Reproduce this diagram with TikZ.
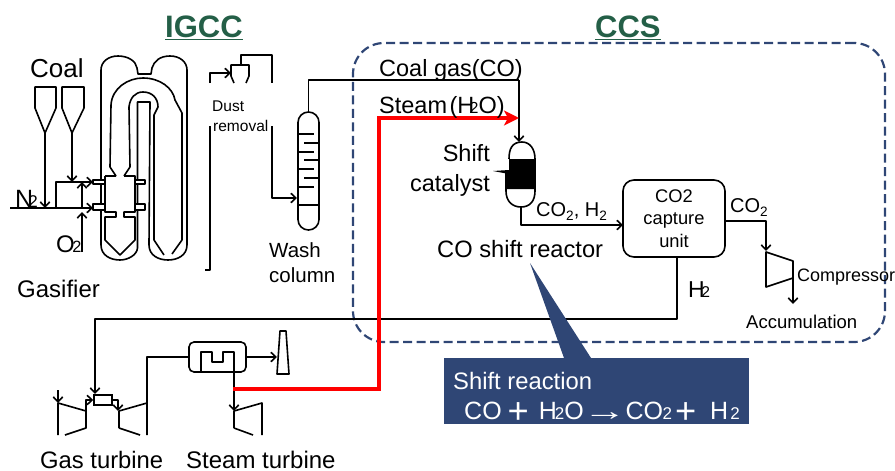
\documentclass[tikz,border=0pt]{standalone}
\usepackage{graphicx}
\usepackage{fontspec}
\setmainfont{Liberation Sans}
\usetikzlibrary{arrows.meta,positioning,calc}
\definecolor{navy}{HTML}{2F4675}
\definecolor{titlegreen}{HTML}{245F47}
\newcommand{\fs}[1]{\fontsize{#1}{#1}\selectfont}
\newcommand{\tighttwo}[1][-.2em]{\kern#1\scalebox{.68}{2}}
\newcommand{\lowtwo}{\raisebox{-.22em}{\scalebox{.68}{2}}}
\newcommand{\bigplus}{\raisebox{-4pt}{\scalebox{1.45}{+}}}
\newcommand{\longarrow}{\raisebox{-1pt}{\scalebox{1.75}[1.1]{→}}}

\begin{document}
\begin{tikzpicture}[
  x=1pt, y=-1pt,
  pipe/.style={draw=black, line width=1.6pt, line join=round},
  arr/.style={pipe, -{Straight Barb[length=5pt,width=9.5pt]}},
  steamarr/.style={draw=red, line width=3.4pt, -{Stealth[length=15pt,width=15pt,inset=4pt]}},
  lbl/.style={anchor=base west, inner sep=0pt, text=black},
  title/.style={anchor=base west, inner sep=0pt, text=titlegreen, font=\fs{31}\bfseries},
  whitelbl/.style={anchor=base west, inner sep=0pt, text=white}
]
\useasboundingbox (0,0) rectangle (895,471);

% CCS frame
\node[draw=navy, line width=2.2pt, dash pattern=on 9pt off 4.5pt, rounded corners=31pt,
  minimum width=532pt, minimum height=299pt, inner sep=0pt] (ccs) at (619,192.5) {};
\node[title] (igcc) at (165,37) {\underline{IGCC}};
\node[title] (ccstitle) at (595,37) {\underline{CCS}};

% hoppers
\coordinate (hopperA) at (45,133);
\coordinate (hopperB) at (72,133);
\coordinate (nleft) at (10,208);
\coordinate (nA) at (45,208);
\coordinate (mixbox) at (56,208);
\coordinate (mixtee) at (82,208);
\coordinate (mixtop) at (82,182);
\coordinate (feedA) at (93,182);
\coordinate (feedB) at (93,208);
\coordinate (oxy) at (82,252);
\coordinate (oxyend) at (82,212);
\coordinate (hopperBend) at (72,182);
\draw[pipe] (35,87) -- (56,87) -- (56,108) -- (hopperA) -- (35,108) -- cycle;
\draw[pipe] (62,87) -- (84,87) -- (84,108) -- (hopperB) -- (62,108) -- cycle;
\draw[arr] (hopperA) -- (nA);
\draw[arr] (hopperB) -- (hopperBend);
\draw[arr] (nleft) -- (feedB);
\draw[pipe] (mixbox) |- (mixtop);
\draw[arr] (mixtop) -- (feedA);
\draw[arr] (mixtee) -- (mixtop);
\draw[arr] (oxy) -- (oxyend);

% gasifier
\draw[pipe] (101,70) .. controls (101,62) and (108,56) .. (118,56) .. controls (128,56) and (136,61) .. (137,68)
  -- (138,74) -- (151,74) -- (152,68) .. controls (154,61) and (160,56) .. (170,56) .. controls (180,56) and (187,62) .. (187,70)
  -- (187,245) .. controls (187,255) and (178,260) .. (168,260) .. controls (158,260) and (149,255) .. (149,245)
  -- (150,102) -- (137.5,102) -- (137.5,248) .. controls (137,255) and (128,260) .. (120,260) .. controls (110,260) and (101,255) .. (101,245) -- cycle;
\draw[pipe] (116,176) -- (110,167) -- (111,105) .. controls (112,88) and (128,78) .. (143,78) .. controls (160,78) and (173,88) .. (175,100)
  -- (182,113) -- (182,240) -- (172,254);
\draw[pipe] (124,176) -- (130,167) -- (129,107) .. controls (130,98) and (135,92) .. (143,92) .. controls (152,92) and (158,98) .. (158,107)
  -- (154,115) -- (154,240) -- (164,255);
\draw[pipe, fill=white] (105,176) -- (116,176) (124,176) -- (135,176) -- (135,212) -- (124,212) -- (124,217) -- (135,217) -- (135,240) -- (120,255)
  -- (105,240) -- (105,217) -- (116,217) -- (116,212) -- (105,212) -- (105,176);
\draw[pipe, fill=white] (93,180) rectangle (105,184);
\draw[pipe, fill=white] (93,204) rectangle (105,210);
\draw[pipe, fill=white] (135,180) rectangle (145,184);
\draw[pipe, fill=white] (135,204) rectangle (145,210);

% dust removal
\coordinate (dustin) at (231,73);
\coordinate (dustleft) at (210,83);
\coordinate (dustloop) at (241,65);
\coordinate (dustright) at (272,83);
\coordinate (dustlow) at (272,126);
\coordinate (washin) at (297,198);
\coordinate (gasout) at (210,126);
\coordinate (gasend) at (205,270);
\draw[arr] (dustleft) |- (dustin);
\draw[pipe] (234,83) -- (231,76) -- (231,65) -- (249,65) -- (249,76) -- (246,83);
\draw[pipe] (dustloop) -- (241,55) -| (dustright);
\draw[pipe] (gasout) -- (210,270) -- (gasend);
\draw[arr] (dustlow) |- (washin);

% wash column
\node[draw=black, line width=1.6pt, rounded corners=10.4pt, minimum width=21pt, minimum height=118pt, inner sep=0pt] (wash) at (308.5,171) {};
\draw[pipe] (wash.west |- 0,205) -- (wash.east |- 0,205);
\foreach \y in {134,152,169,187} \draw[pipe] (298,\y) -- (314,\y);
\foreach \y in {143,160,178} \draw[pipe] (304,\y) -- (319,\y);

% shift reactor
\coordinate (gastee) at (519,80);
\coordinate (reactortop) at (519,142);
\coordinate (reactorout) at (521,207);
\coordinate (steamup) at (379,118);
\coordinate (steamin) at (519,118);
\coordinate (steamtap) at (233,389);
\draw[pipe] (wash.north) |- (gastee);
\draw[arr] (gastee) -- (reactortop);
\draw[pipe] (509,159) .. controls (509,149) and (512,142) .. (522,142) .. controls (530,142) and (535,149) .. (535,159) -- (535,191);
\fill[black] (509,159) -- (535,159) -- (535,189) -- (506,189) -- (506,172) -- (509,172) -- cycle;
\fill[black] (493,171) -- (509,170) -- (509,174) -- cycle;
\draw[pipe] (506,172) -- (506,191) .. controls (506,201) and (512,207) .. (reactorout) .. controls (530,207) and (535,201) .. (535,191);

% capture unit, compressor
\node[draw=black, line width=1.6pt, rounded corners=11pt, minimum width=102pt, minimum height=77pt, inner sep=0pt,
  align=center, font=\fontsize{18.3}{22.5}\selectfont] (capture) at (674,218.5) {CO2\\capture\\unit};
\coordinate (capturein) at (623,225);
\coordinate (captureout) at (725,221);
\coordinate (compin) at (766,251);
\coordinate (compout) at (793,278);
\coordinate (accum) at (793,304);
\coordinate (hydro) at (677,257);
\coordinate (combin) at (95,394);
\draw[arr] (reactorout) |- (capturein);
\draw[arr] (captureout) -| (compin);
\draw[pipe] (766,252) -- (793,261) -- (793,278) -- (766,287) -- cycle;
\draw[arr] (compout) -- (accum);
\draw[arr] (hydro) -- (677,319) -| (combin);

% gas turbine
\node[draw=black, line width=1.6pt, fill=white, minimum width=18pt, minimum height=10pt, inner sep=0pt] (comb) at (103,400) {};
\draw[pipe] (58,435) -- (58,403) -- (86,411) -- (86,428) -- (65,435);
\draw[pipe] (119,428) -- (119,411) -- (147,403) -- (147,435);
\draw[pipe] (119,428) -- (140,435);
\draw[arr] (58,390) -- (58,403);
\draw[arr] (86,411) |- (comb.west);
\draw[arr] (comb.east) -| (118,411);

% heat recovery, stack, steam turbine
\node[draw=black, line width=1.6pt, rounded corners=5pt, minimum width=57pt, minimum height=30pt, inner sep=0pt] (hrsg) at (217.5,357) {};
\draw[pipe] (201,372) -- (201,352) -- (212,352) -- (212,362) -- (223,362) -- (223,352) -- (234,352) -- (234,372);
\draw[pipe] (147,403) |- (hrsg.west);
\draw[pipe] (280,331) -- (286,331) -- (289,374) -- (277,374) -- cycle;
\draw[arr] (hrsg.east) -- (277,357);
\draw[arr] (234,372) -- (234,411);
\draw[pipe] (234,428) -- (234,411) -- (262,403) -- (262,435);
\draw[pipe] (234,428) -- (253,435);

% steam line
\draw[steamarr] (steamtap) -| (steamup) -- (steamin);

% labels
\node[lbl, font=\fs{26}] (coal) at (30,77) {Coal};
\node[lbl, font=\fs{25}] (ntwo) at (15,207) {N\tighttwo};
\node[lbl, font=\fs{24}] (otwo) at (56,252) {O\tighttwo[-.1em]};
\node[lbl, font=\fs{24}] (gasifier) at (17,297) {Gasifier};
\node[lbl, font=\fs{15.5}] (dust) at (212,111) {Dust};
\node[lbl, font=\fs{15.5}] (removal) at (213,131) {removal};
\node[lbl, font=\fs{20.5}] (washa) at (269,257) {Wash};
\node[lbl, font=\fs{20.5}] (washb) at (269,282) {column};
\node[lbl, font=\fs{23.5}] (coalgas) at (379,76) {Coal gas(CO)};
\node[lbl, font=\fs{23.5}] (steam) at (379,113) {Steam\kern-4pt{} (H\tighttwo O)};
\node[lbl, font=\fs{23.5}, anchor=base east] (shift) at (490,161) {Shift};
\node[lbl, font=\fs{23.5}, anchor=base east] (catalyst) at (490,191) {catalyst};
\node[lbl, font=\fs{20}] (mixout) at (536,216) {CO\lowtwo, H\lowtwo};
\node[lbl, font=\fs{23.7}] (reactor) at (437,257) {CO shift reactor};
\node[lbl, font=\fs{20}] (coout) at (730,212) {CO\lowtwo};
\node[lbl, font=\fs{18}] (compressor) at (797,281) {Compressor};
\node[lbl, font=\fs{18.5}] (accumulation) at (746,328) {Accumulation};
\node[lbl, font=\fs{23}] (htwo) at (688,297) {H\tighttwo[-.15em]};
\node[lbl, font=\fs{23.8}] (gasturbine) at (40,468) {Gas turbine};
\node[lbl, font=\fs{24}] (steamturbine) at (186,468) {Steam turbine};

% callout
\fill[navy] (530,263) -- (564,358) -- (591,358) -- cycle;
\node[fill=navy, minimum width=305pt, minimum height=66pt, inner sep=0pt] (callout) at (596.5,391) {};
\node[whitelbl, font=\fs{23.8}] (reaction) at (453,389) {Shift reaction};
\node[whitelbl, font=\fs{25}] (equation) at (464,419) {CO\kern6pt\bigplus\kern10pt H\tighttwo[-.08em]O\kern-1pt\longarrow\kern-1pt CO\tighttwo[-.02em]\kern3pt\bigplus\kern14pt H\kern2pt\scalebox{.68}{2}};
\end{tikzpicture}
\end{document}
